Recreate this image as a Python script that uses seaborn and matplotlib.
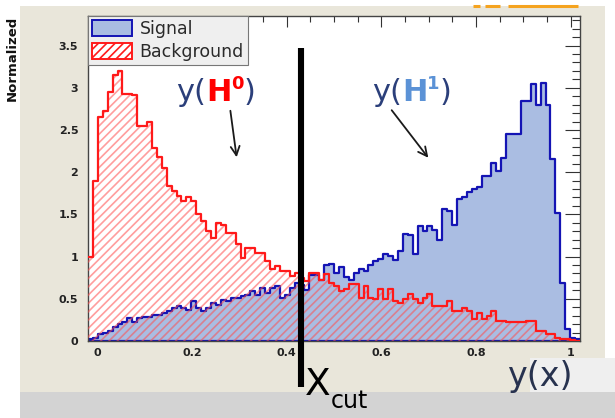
import numpy as np
import pandas as pd
import seaborn as sns
import matplotlib.pyplot as plt
from matplotlib.patches import Patch, Rectangle
from matplotlib.lines import Line2D
from matplotlib.ticker import MultipleLocator, FixedLocator, FixedFormatter

# ---------------- data ----------------
bin_lo, bin_hi, n_bins = -0.02, 1.02, 100

signal = [
    0.02, 0.04, 0.08, 0.10, 0.12, 0.16, 0.20, 0.22, 0.27, 0.23,
    0.27, 0.29, 0.29, 0.31, 0.31, 0.33, 0.35, 0.39, 0.41, 0.39,
    0.37, 0.47, 0.39, 0.35, 0.39, 0.45, 0.43, 0.49, 0.47, 0.51,
    0.51, 0.53, 0.55, 0.59, 0.55, 0.63, 0.57, 0.63, 0.65, 0.51,
    0.55, 0.63, 0.69, 0.66, 0.60, 0.78, 0.78, 0.72, 0.90, 0.91,
    0.80, 0.88, 0.76, 0.72, 0.80, 0.85, 0.83, 0.90, 0.95, 0.97,
    1.03, 1.01, 0.96, 1.07, 1.27, 1.25, 1.03, 1.36, 1.30, 1.36,
    1.32, 1.20, 1.56, 1.54, 1.38, 1.68, 1.70, 1.76, 1.80, 1.82,
    1.95, 1.95, 2.11, 2.01, 2.17, 2.45, 2.45, 2.45, 2.84, 2.84,
    3.04, 2.80, 3.06, 2.79, 2.16, 1.52, 0.69, 0.14, 0.03, 0.02,
]

background = [
    1.00, 1.90, 2.65, 2.72, 2.95, 3.15, 3.20, 2.93, 2.93, 2.92,
    2.55, 2.55, 2.60, 2.29, 2.18, 2.05, 1.84, 1.78, 1.72, 1.66,
    1.70, 1.66, 1.50, 1.42, 1.30, 1.22, 1.40, 1.38, 1.28, 1.28,
    1.15, 0.98, 1.10, 1.10, 1.04, 1.04, 0.95, 0.85, 0.89, 0.83,
    0.83, 0.77, 0.80, 0.75, 0.71, 0.80, 0.80, 0.72, 0.79, 0.69,
    0.65, 0.59, 0.62, 0.67, 0.67, 0.51, 0.65, 0.51, 0.50, 0.62,
    0.50, 0.62, 0.47, 0.45, 0.50, 0.56, 0.50, 0.45, 0.51, 0.56,
    0.41, 0.41, 0.41, 0.47, 0.36, 0.36, 0.39, 0.36, 0.26, 0.33,
    0.26, 0.30, 0.36, 0.24, 0.24, 0.23, 0.23, 0.22, 0.22, 0.24,
    0.24, 0.12, 0.12, 0.08, 0.08, 0.04, 0.02, 0.02, 0.01, 0.00,
]

series_names = ["Signal", "Background"]
x_ticks = [0, 0.2, 0.4, 0.6, 0.8, 1.0]
x_tick_labels = ["0", "0.2", "0.4", "0.6", "0.8", "1"]
y_ticks = [0, 0.5, 1.0, 1.5, 2.0, 2.5, 3.0, 3.5]
y_tick_labels = ["0", "0.5", "1", "1.5", "2", "2.5", "3", "3.5"]
x_cut = 0.431
cut_top = 3.47

edges = np.linspace(bin_lo, bin_hi, n_bins + 1)
centers = 0.5 * (edges[:-1] + edges[1:])
df = pd.DataFrame({"y": centers, "Signal": signal, "Background": background})

# ---------------- style ----------------
sns.set_theme(style="white")
plt.rcParams['font.family'] = ['DejaVu Sans']
plt.rcParams['hatch.linewidth'] = 1.2

W, H = 615, 418
fig = plt.figure(figsize=(W / 100, H / 100), dpi=100, facecolor='white')

def fr(x0, y0, x1, y1):
    """pixel box (top-left origin) -> figure fraction rect"""
    return (x0 / W, (H - y1) / H, (x1 - x0) / W, (y1 - y0) / H)

# canvas decorations
for (x0, y0, x1, y1, col) in [(20, 6, 605, 392, '#e9e6da'),
                              (20, 392, 615, 418, '#d3d3d3'),
                              (530, 358, 615, 392, '#efefef')]:
    l, b, w, h = fr(x0, y0, x1, y1)
    fig.patches.append(Rectangle((l, b), w, h, transform=fig.transFigure,
                                 facecolor=col, edgecolor='none', zorder=-10))
for (xa, xb) in [(473, 480), (485, 500), (508, 578)]:
    fig.lines.append(Line2D([xa / W, xb / W], [(H - 6) / H] * 2, transform=fig.transFigure,
                            color='#f5a31f', lw=2.2, solid_capstyle='butt'))

ax = fig.add_axes(fr(88, 16, 580, 341))
ax.set_facecolor('white')

sig_fill = '#aabde2'
sig_edge = '#1414b4'
bkg_edge = '#ff1a1a'
bkg_hatch = (1.0, 0.3, 0.3, 0.55)
hist_kw = dict(data=df, x='y', bins=n_bins, binrange=(bin_lo, bin_hi), element='step', ax=ax)

sns.histplot(weights='Signal', fill=True, color=sig_edge, facecolor=sig_fill, edgecolor=sig_edge,
             linewidth=1.6, zorder=2, **hist_kw)
sns.histplot(weights='Background', fill=True, color=bkg_edge, facecolor='none',
             edgecolor=bkg_hatch, linewidth=0, hatch='////', zorder=3, **hist_kw)
sns.histplot(weights='Background', fill=False, color=bkg_edge, linewidth=1.6, zorder=4,
             **hist_kw)

ax.set_xlim(bin_lo, bin_hi)
ax.set_ylim(0, 3.85)
ax.set_xlabel('')
ax.set_ylabel('')

ax.xaxis.set_major_locator(FixedLocator(x_ticks))
ax.xaxis.set_major_formatter(FixedFormatter(x_tick_labels))
ax.yaxis.set_major_locator(FixedLocator(y_ticks))
ax.yaxis.set_major_formatter(FixedFormatter(y_tick_labels))
ax.xaxis.set_minor_locator(MultipleLocator(0.05))
ax.yaxis.set_minor_locator(MultipleLocator(0.1))
ax.tick_params(which='both', direction='in', top=True, right=True, color='#333333', width=0.8)
ax.tick_params(axis='x', which='major', length=8, pad=5)
ax.tick_params(axis='x', which='minor', length=4)
ax.tick_params(axis='y', which='major', length=11, pad=7)
ax.tick_params(axis='y', which='minor', length=6)
for lab in ax.get_xticklabels() + ax.get_yticklabels():
    lab.set_fontweight('bold')
    lab.set_fontsize(8)
    lab.set_color('#222222')
for sp in ax.spines.values():
    sp.set_color('#444444')
    sp.set_linewidth(1.0)

ax.set_ylabel('Normalized', loc='top', fontsize=9.5, fontweight='bold', color='#111111')
ax.yaxis.set_label_coords(-0.14, 1.0)

# legend
handles = [Patch(facecolor=sig_fill, edgecolor=sig_edge, linewidth=1.4),
           Patch(facecolor='white', edgecolor=bkg_edge, hatch='////', linewidth=1.4)]
leg = ax.legend(handles, series_names, loc='upper left', bbox_to_anchor=(0, 1),
                borderaxespad=0, frameon=True, fancybox=False, framealpha=1,
                facecolor='#efefef', edgecolor='#777777', fontsize=12.5,
                handlelength=2.3, handleheight=1.0, labelspacing=0.3,
                borderpad=0.22, handletextpad=0.45)
leg.get_frame().set_linewidth(0.8)
for t in leg.get_texts():
    t.set_color('#2a2a2a')
leg.set_zorder(6)

# cut line
ax.plot([x_cut, x_cut], [cut_top, -0.545], color='black', lw=4.4, clip_on=False,
        solid_capstyle='butt', zorder=7)

# ---------------- annotations ----------------
renderer = fig.canvas.get_renderer()

def seq_text(x_px, base_px, parts):
    x = x_px
    for s, col, size, weight, raise_px in parts:
        t = fig.text(x / W, (H - base_px + raise_px) / H, s, color=col, fontsize=size,
                     fontweight=weight, ha='left', va='baseline', zorder=8)
        bb = t.get_window_extent(renderer)
        x = bb.x1

navy = '#2b3f7a'
seq_text(176, 101, [('y(', navy, 22, 'normal', 0),
                    ('H', '#ff0000', 22, 'bold', 0),
                    ('0', '#ff0000', 13, 'bold', 12),
                    (')', navy, 22, 'normal', 0)])
seq_text(372, 101, [('y(', navy, 22, 'normal', 0),
                    ('H', '#5b92d6', 22, 'bold', 0),
                    ('1', '#5b92d6', 13, 'bold', 12),
                    (')', navy, 22, 'normal', 0)])

arrow_kw = dict(arrowstyle='->', color='#1a1a1a', lw=1.3, mutation_scale=16)
ax.annotate('', xy=(237, H - 160), xytext=(230, H - 108), xycoords='figure pixels',
            textcoords='figure pixels', arrowprops=arrow_kw, zorder=8)
ax.annotate('', xy=(430, H - 160), xytext=(390, H - 108), xycoords='figure pixels',
            textcoords='figure pixels', arrowprops=arrow_kw, zorder=8)

seq_text(305, 395, [('X', 'black', 27, 'normal', 0),
                    ('cut', 'black', 17, 'normal', -13)])
seq_text(507, 386, [('y(x)', '#27324f', 24, 'normal', 0)])

fig.savefig('out.png', dpi=100, facecolor=fig.get_facecolor())
